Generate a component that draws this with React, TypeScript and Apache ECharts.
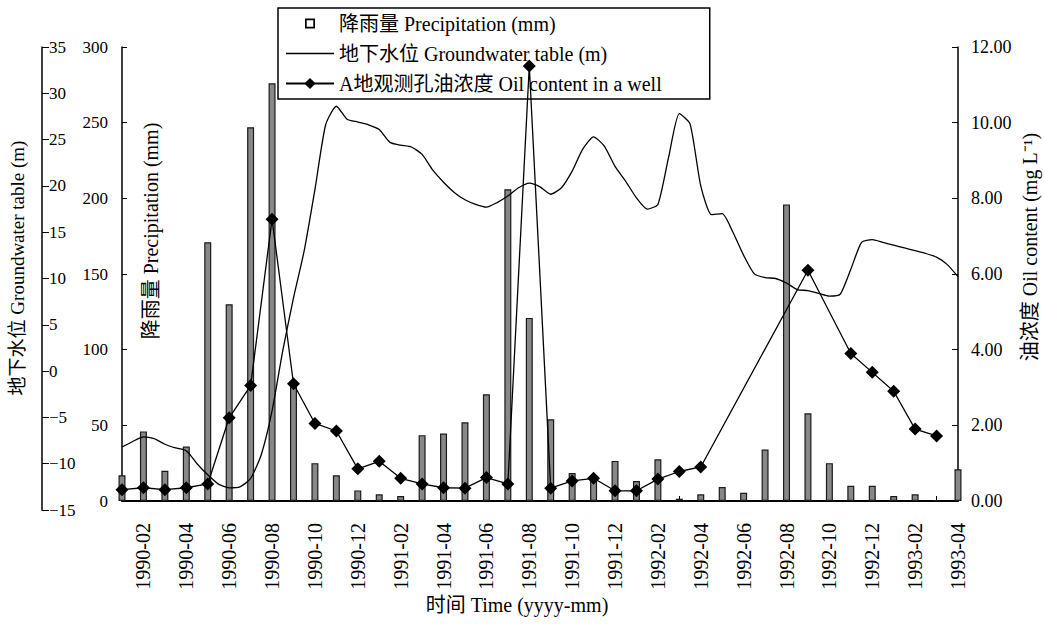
import React, { useEffect, useRef } from "react";
import * as echarts from "echarts";

const FONT = "'Liberation Serif', 'Times New Roman', 'Noto Sans CJK SC', serif";

const months = [
  "1990-01", "1990-02", "1990-03", "1990-04", "1990-05", "1990-06", "1990-07", "1990-08", "1990-09", "1990-10", "1990-11", "1990-12",
  "1991-01", "1991-02", "1991-03", "1991-04", "1991-05", "1991-06", "1991-07", "1991-08", "1991-09", "1991-10", "1991-11", "1991-12",
  "1992-01", "1992-02", "1992-03", "1992-04", "1992-05", "1992-06", "1992-07", "1992-08", "1992-09", "1992-10", "1992-11", "1992-12",
  "1993-01", "1993-02", "1993-03", "1993-04",
];

// Precipitation (mm), monthly
const precipitation = [
  17, 46, 20, 36, 171, 130, 247, 276, 78, 25, 17, 7,
  4.4, 3.3, 43.5, 44.6, 52, 70.5, 206, 121, 54, 18.5, 15.4, 26.5,
  13.2, 27.6, 1.5, 4.4, 9.3, 5.5, 34, 196, 58, 25, 10, 10,
  3.3, 4.4, 0.5, 21,
];

// Oil content in a well (mg/L), monthly (null = not measured)
const oilContent = [
  0.3, 0.35, 0.3, 0.35, 0.45, 2.2, 3.05, 7.45, 3.1, 2.05, 1.85, 0.85,
  1.05, 0.6, 0.45, 0.35, 0.34, 0.62, 0.45, 11.5, 0.34, 0.53, 0.6, 0.27,
  0.27, 0.58, 0.78, 0.9, null, null, null, null, 6.1, null, 3.9, 3.4,
  2.9, 1.9, 1.72, null,
];

// Groundwater table (m), sampled every half month from 1990-01 to 1993-04
const groundwater = [
  -8.2, -7.6, -7.1, -7.3, -7.9, -8.3, -8.6, -10.0, -11.2, -12.2, -12.6, -12.5,
  -11.6, -9.0, -4.3, 2.2, 7.9, 13.0, 19.6, 26.6, 28.6, 27.2, 26.9, 26.6,
  26.1, 24.7, 24.4, 24.2, 23.4, 21.7, 20.4, 19.3, 18.5, 18.0, 17.7, 18.2,
  18.9, 19.8, 20.3, 19.9, 19.1, 19.8, 21.6, 24.0, 25.3, 24.3, 22.1, 20.5,
  18.7, 17.5, 18.0, 23.1, 27.8, 26.7, 20.0, 16.9, 17.0, 15.0, 12.5, 10.5,
  10.1, 10.0, 9.5, 8.8, 8.7, 8.4, 8.1, 8.3, 11.0, 13.9, 14.2, 13.9,
  13.6, 13.3, 13.0, 12.7, 12.3, 11.5, 10.2,
];

const NAME_P = "降雨量 Precipitation (mm)";
const NAME_G = "地下水位 Groundwater table (m)";
const NAME_O = "A地观测孔油浓度 Oil content in a well";

export default function App() {
  const ref = useRef<HTMLDivElement>(null);

  useEffect(() => {
    if (!ref.current) return;
    const chart = echarts.init(ref.current, null, { renderer: "svg" });
    const black = "#000";
    const labelStyle = { color: black, fontFamily: FONT };

    const option: any = {
      animation: false,
      backgroundColor: "#fff",
      legend: {
        orient: "vertical",
        left: 278,
        top: 8,
        itemWidth: 48,
        itemHeight: 14,
        itemGap: 9,
        padding: [5, 48, 5, 7],
        borderColor: black,
        borderWidth: 1.5,
        textStyle: { color: black, fontFamily: FONT, fontSize: 20, lineHeight: 21 },
        data: [
          {
            name: NAME_P,
            icon: "path://M0 0M14 14M2 2H12V12H2ZM3.7 3.7V10.3H10.3V3.7Z",
            itemStyle: { color: black, borderWidth: 0 },
          },
          {
            name: NAME_G,
            icon: "path://M0 6.35H48V7.65H0Z",
            itemStyle: { color: black, borderWidth: 0 },
          },
          { name: NAME_O },
        ],
      },
      grid: [
        { left: 122, right: 86, top: 47, bottom: 125 },
        { left: 122, right: 86, top: 47, bottom: 116 },
      ],
      xAxis: [
        {
          type: "category",
          gridIndex: 0,
          data: months,
          boundaryGap: false,
          axisLine: { lineStyle: { color: black, width: 2 } },
          axisTick: { inside: true, length: 5, interval: 0, lineStyle: { color: black } },
          axisLabel: {
            ...labelStyle,
            fontSize: 20,
            rotate: 90,
            margin: 22,
            interval: (i: number) => i % 2 === 1,
          },
          splitLine: { show: false },
        },
        { type: "value", gridIndex: 1, min: 0, max: 39, show: false },
      ],
      yAxis: [
        {
          type: "value",
          gridIndex: 0,
          position: "left",
          min: 0,
          max: 300,
          interval: 50,
          axisLine: { show: true, onZero: false, lineStyle: { color: black, width: 1.5 } },
          axisTick: { show: true, inside: true, length: 5, lineStyle: { color: black } },
          axisLabel: { ...labelStyle, fontSize: 17, margin: 14 },
          splitLine: { show: false },
        },
        {
          type: "value",
          gridIndex: 0,
          position: "right",
          min: 0,
          max: 12,
          interval: 2,
          axisLine: { show: true, onZero: false, lineStyle: { color: black, width: 1.5 } },
          axisTick: { show: true, inside: true, length: 6, lineStyle: { color: black } },
          axisLabel: { ...labelStyle, fontSize: 18, margin: 13, formatter: (v: number) => v.toFixed(2) },
          splitLine: { show: false },
        },
        {
          type: "value",
          gridIndex: 1,
          position: "left",
          offset: 80,
          min: -15,
          max: 35,
          interval: 5,
          axisLine: { show: true, onZero: false, lineStyle: { color: black, width: 1.5 } },
          axisTick: { show: true, inside: true, length: 7, lineStyle: { color: black } },
          axisLabel: {
            ...labelStyle,
            fontSize: 17,
            inside: true,
            margin: 7,
            formatter: (v: number) => String(v).replace("-", "\u2212"),
          },
          splitLine: { show: false },
        },
      ],
      graphic: [
        {
          type: "text",
          x: 17,
          y: 268,
          rotation: Math.PI / 2,
          style: { text: "地下水位 Groundwater table (m)", font: `19px ${FONT}`, fill: black, textAlign: "center", textVerticalAlign: "middle" },
        },
        {
          type: "text",
          x: 151,
          y: 231,
          rotation: Math.PI / 2,
          style: { text: "降雨量 Precipitation (mm)", font: `20px ${FONT}`, fill: black, textAlign: "center", textVerticalAlign: "middle" },
        },
        {
          type: "text",
          x: 1030,
          y: 247,
          rotation: Math.PI / 2,
          style: { text: "油浓度 Oil content (mg L⁻¹)", font: `20px ${FONT}`, fill: black, textAlign: "center", textVerticalAlign: "middle" },
        },
        {
          type: "text",
          x: 517,
          y: 605,
          style: { text: "时间 Time (yyyy-mm)", font: `20px ${FONT}`, fill: black, textAlign: "center", textVerticalAlign: "middle" },
        },
      ],
      series: [
        {
          name: NAME_P,
          type: "bar",
          xAxisIndex: 0,
          yAxisIndex: 0,
          data: precipitation,
          barWidth: 7,
          clip: false,
          itemStyle: { color: "#888888", borderColor: "#1a1a1a", borderWidth: 1.2 },
        },
        {
          name: NAME_G,
          type: "line",
          xAxisIndex: 1,
          yAxisIndex: 2,
          data: groundwater.map((v, k) => [k / 2, v]),
          symbol: "none",
          showSymbol: false,
          smooth: 0.2,
          lineStyle: { color: black, width: 1.3 },
          itemStyle: { color: black },
        },
        {
          name: NAME_O,
          type: "line",
          xAxisIndex: 0,
          yAxisIndex: 1,
          data: oilContent,
          connectNulls: true,
          symbol: "diamond",
          symbolSize: 13,
          lineStyle: { color: black, width: 1.3 },
          itemStyle: { color: black },
        },
      ],
    };

    chart.setOption(option);
    return () => chart.dispose();
  }, []);

  return (
    <div
      ref={ref}
      style={{ position: "fixed", left: 0, top: 0, width: 1044, height: 626, background: "#fff" }}
    />
  );
}
